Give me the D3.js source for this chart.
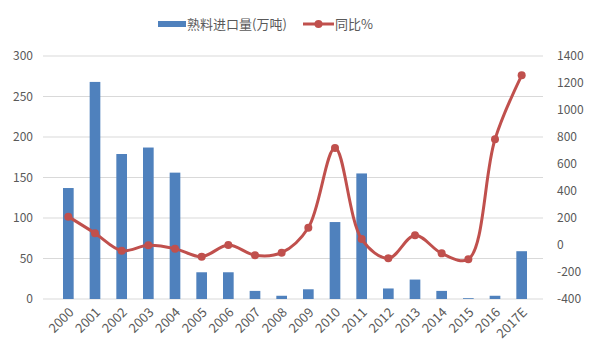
<!DOCTYPE html>
<html>
<head>
<meta charset="utf-8">
<script src="https://d3js.org/d3.v7.min.js"></script>
<style>
  body { margin: 0; background: #fff; font-family: "Noto Sans CJK SC", "Open Sans", sans-serif; }
  text { fill: #595959; }
</style>
</head>
<body>
<div id="chart"></div>
<script>
var years = ["2000","2001","2002","2003","2004","2005","2006","2007","2008","2009","2010","2011","2012","2013","2014","2015","2016","2017E"];
var imports = [137, 268, 179, 187, 156, 33, 33, 10, 4, 12, 95, 155, 13, 24, 10, 1, 4, 59];
var yoy = [210, 87, -42, -2, -27, -87, 0, -76, -57, 128, 718, 44, -99, 72, -62, -106, 783, 1257];
var leftTicks = [0, 50, 100, 150, 200, 250, 300];
var rightTicks = [-400, -200, 0, 200, 400, 600, 800, 1000, 1200, 1400];

var width = 600, height = 360;
var plotTop = 56, plotBottom = 299, plotLeft = 47, plotRight = 543;

var svg = d3.select("#chart").append("svg")
    .attr("width", width).attr("height", height);

var x = d3.scaleBand().domain(years).range([plotLeft, plotRight]).padding(0.6);
var y = d3.scaleLinear().domain([0, 300]).range([plotBottom, plotTop]);
var y2 = d3.scaleLinear().domain([-400, 1400]).range([plotBottom, plotTop]);

// gridlines
svg.append("g").selectAll("line")
    .data(leftTicks).enter().append("line")
    .attr("x1", plotLeft - 4).attr("x2", plotRight)
    .attr("y1", function(d) { return y(d); })
    .attr("y2", function(d) { return y(d); })
    .attr("stroke", "#d9d9d9").attr("stroke-width", 1);

// left axis labels
svg.append("g").selectAll("text")
    .data(leftTicks).enter().append("text")
    .attr("x", 33).attr("y", function(d) { return y(d) + 4; })
    .attr("text-anchor", "end")
    .style("font-size", "12px")
    .text(function(d) { return d; });

// right axis labels
svg.append("g").selectAll("text")
    .data(rightTicks).enter().append("text")
    .attr("x", 557).attr("y", function(d) { return y2(d) + 4; })
    .attr("text-anchor", "start")
    .style("font-size", "12px")
    .text(function(d) { return d; });

// bars
svg.append("g").selectAll("rect")
    .data(imports).enter().append("rect")
    .attr("x", function(d, i) { return x(years[i]); })
    .attr("width", x.bandwidth())
    .attr("y", function(d) { return y(d); })
    .attr("height", function(d) { return plotBottom - y(d); })
    .attr("fill", "#4f81bd");

// x labels
svg.append("g").selectAll("text")
    .data(years).enter().append("text")
    .attr("transform", function(d) {
        return "translate(" + (x(d) + x.bandwidth() / 2 + 3) + "," + (plotBottom + 11) + ") rotate(-45)";
    })
    .attr("text-anchor", "end")
    .attr("dy", "0.35em")
    .style("font-size", "13px")
    .text(function(d) { return d; });

// line
var line = d3.line()
    .x(function(d, i) { return x(years[i]) + x.bandwidth() / 2; })
    .y(function(d) { return y2(d); })
    .curve(d3.curveCatmullRom.alpha(0.5));

svg.append("path")
    .datum(yoy)
    .attr("d", line)
    .attr("fill", "none")
    .attr("stroke", "#c0504d")
    .attr("stroke-width", 3);

svg.append("g").selectAll("circle")
    .data(yoy).enter().append("circle")
    .attr("cx", function(d, i) { return x(years[i]) + x.bandwidth() / 2; })
    .attr("cy", function(d) { return y2(d); })
    .attr("r", 4)
    .attr("fill", "#c0504d");

// legend
var lg = svg.append("g");
lg.append("rect").attr("x", 158).attr("y", 21).attr("width", 28).attr("height", 6).attr("fill", "#4f81bd");
lg.append("text").attr("x", 187).attr("y", 29).style("font-size", "13px").text("熟料进口量(万吨)");
lg.append("line").attr("x1", 303).attr("x2", 334).attr("y1", 24).attr("y2", 24)
    .attr("stroke", "#c0504d").attr("stroke-width", 3);
lg.append("circle").attr("cx", 318.5).attr("cy", 24).attr("r", 4).attr("fill", "#c0504d");
lg.append("text").attr("x", 335).attr("y", 29).style("font-size", "13px").text("同比%");
</script>
</body>
</html>
